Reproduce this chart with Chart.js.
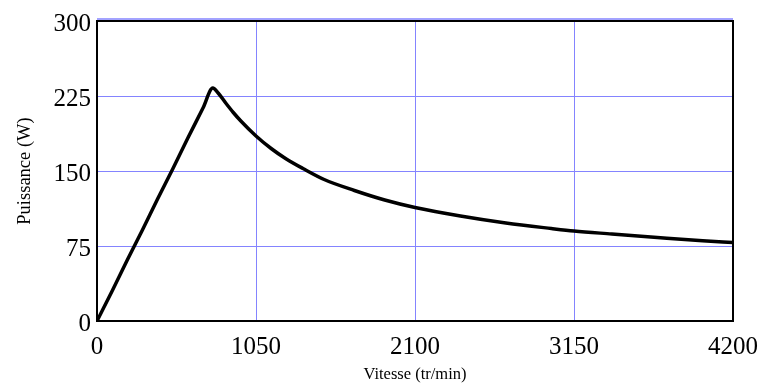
<!DOCTYPE html>
<html>
<head>
<meta charset="utf-8">
<script src="https://cdn.jsdelivr.net/npm/chart.js@4"></script>
<style>
  html, body { margin: 0; padding: 0; background: #fff; }
  #wrap { width: 769px; height: 389px; position: relative; }
</style>
</head>
<body>
<div id="wrap"><canvas id="chart"></canvas></div>
<script>
// speed (tr/min) and power (W)
const vitesse = [0, 100, 200, 300, 400, 500, 600, 700, 765, 800, 850, 900, 950, 1050, 1150, 1250, 1360, 1500, 1700, 1900, 2100, 2400, 2700, 3000, 3150, 3400, 3700, 4000, 4200];
const puissance = [0, 30, 61, 91, 122, 152, 183, 213, 233, 228, 218, 208.5, 200, 185, 172.5, 162, 152.5, 141.5, 130.5, 121, 113.5, 105, 98, 92.5, 90, 87, 83.5, 80.2, 78.5];

const xTicks = [0, 1050, 2100, 3150, 4200];
const yTicks = [0, 75, 150, 225, 300];

const GRID = '#8484ff';
const SERIF = '"Liberation Serif", "Times New Roman", serif';

// black frame around the plot area (top + right edges)
const frame = {
  id: 'frame',
  afterDatasetsDraw(chart) {
    const { ctx, chartArea: a } = chart;
    ctx.save();
    ctx.strokeStyle = GRID;
    ctx.lineWidth = 1.5;
    ctx.beginPath();
    ctx.moveTo(a.left, a.top - 2);
    ctx.lineTo(a.right, a.top - 2);
    ctx.stroke();
    ctx.strokeStyle = '#000';
    ctx.lineWidth = 2;
    ctx.strokeRect(a.left, a.top, a.right - a.left, a.bottom - a.top);
    ctx.restore();
  }
};

new Chart(document.getElementById('chart'), {
  type: 'line',
  data: {
    datasets: [{
      data: vitesse.map((v, i) => ({ x: v, y: puissance[i] })),
      borderColor: '#000',
      borderWidth: 3.5,
      pointRadius: 0,
      cubicInterpolationMode: 'monotone',
      borderJoinStyle: 'round',
      fill: false,
    }]
  },
  options: {
    responsive: true,
    maintainAspectRatio: false,
    animation: false,
    layout: { padding: { top: 17, right: 36, left: 0, bottom: 0 } },
    plugins: { legend: { display: false }, tooltip: { enabled: false } },
    scales: {
      x: {
        type: 'linear',
        min: 0, max: 4200,
        afterBuildTicks: s => { s.ticks = xTicks.map(v => ({ value: v })); },
        afterFit: s => { s.height = 68; },
        grid: { color: GRID, lineWidth: 1, drawTicks: false },
        border: { color: '#000', width: 2 },
        ticks: { color: '#000', padding: 11, maxRotation: 0, callback: v => String(v), font: { family: SERIF, size: 25 } },
        title: { display: true, text: 'Vitesse (tr/min)', color: '#000', padding: { top: 6 }, font: { family: SERIF, size: 16.5 } }
      },
      y: {
        min: 0, max: 300,
        afterBuildTicks: s => { s.ticks = yTicks.map(v => ({ value: v })); },
        afterFit: s => { s.width = 97; },
        grid: { color: GRID, lineWidth: 1, drawTicks: false },
        border: { color: '#000', width: 2 },
        ticks: { color: '#000', padding: 6, labelOffset: 3, callback: v => String(v), font: { family: SERIF, size: 25 } },
        title: { display: true, text: 'Puissance (W)', color: '#000', padding: { top: 14 }, font: { family: SERIF, size: 18.5 } }
      }
    }
  },
  plugins: [frame]
});
</script>
</body>
</html>
